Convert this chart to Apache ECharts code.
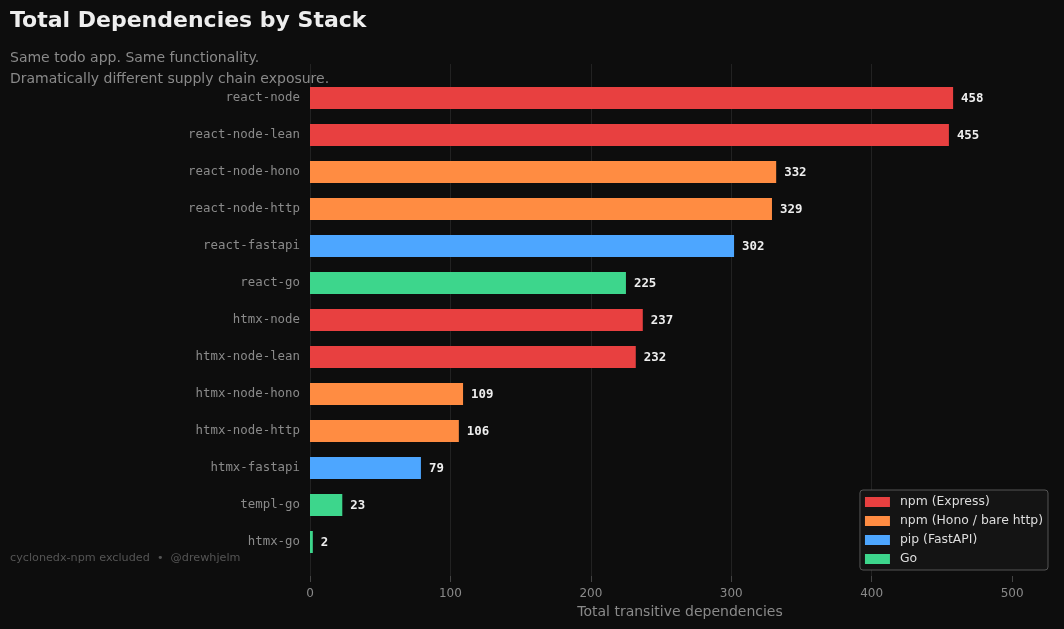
<!DOCTYPE html>
<html>
<head>
<meta charset="utf-8">
<script src="https://cdn.jsdelivr.net/npm/echarts@6/dist/echarts.min.js"></script>
<style>html,body{margin:0;padding:0;background:#0d0d0d;}#c{width:1064px;height:629px;}</style>
</head>
<body>
<div id="c"></div>
<script>
const categories = ["react-node","react-node-lean","react-node-hono","react-node-http","react-fastapi","react-go","htmx-node","htmx-node-lean","htmx-node-hono","htmx-node-http","htmx-fastapi","templ-go","htmx-go"];
const values = [458,455,332,329,302,225,237,232,109,106,79,23,2];
const groups = ["express","express","hono","hono","pip","go","express","express","hono","hono","pip","go","go"];
const seriesNames = {express:"npm (Express)", hono:"npm (Hono / bare http)", pip:"pip (FastAPI)", go:"Go"};
const seriesColors = {express:"#E84040", hono:"#FF8C42", pip:"#4DA6FF", go:"#3DD68C"};
const xTicks = [0,100,200,300,400,500];

const chart = echarts.init(document.getElementById('c'), null, {renderer:'canvas'});
const keys = ["express","hono","pip","go"];
const series = keys.map(k => ({
  type:'bar', name: seriesNames[k], xAxisIndex:0, yAxisIndex:0,
  data: values.map((v,i)=> groups[i]===k ? v : null),
  barWidth:22, barGap:'-100%',
  itemStyle:{color: seriesColors[k]},
  label:{show:true, position:'right', distance:8, offset:[0,1], color:'#eeeeee', fontFamily:'DejaVu Sans Mono', fontWeight:'bold', fontSize:12.4},
  z:3
}));
series.push({type:'bar', xAxisIndex:1, yAxisIndex:1, data:[], silent:true});

chart.setOption({
  backgroundColor:'#0d0d0d',
  animation:false,
  title:[
    {text:'Total Dependencies by Stack', left:10, top:10, padding:0, textStyle:{color:'#eeeeee', fontFamily:'DejaVu Sans', fontWeight:'bold', fontSize:22}},
    {text:'Same todo app. Same functionality.\nDramatically different supply chain exposure.', left:10, top:48, padding:0, textStyle:{color:'#8a8a8a', fontFamily:'DejaVu Sans', fontWeight:'normal', fontSize:14, lineHeight:21}},
    {text:'cyclonedx-npm excluded  •  @drewhjelm', left:10, top:553, padding:0, textStyle:{color:'#555555', fontFamily:'DejaVu Sans', fontWeight:'normal', fontSize:11.2}}
  ],
  legend:{
    data: keys.map(k=>seriesNames[k]),
    orient:'vertical', right:16, top:490,
    itemWidth:25, itemHeight:10, itemGap:7,
    backgroundColor:'#141414', borderColor:'#555555', borderWidth:1, borderRadius:3,
    padding:[6,5,5,5],
    textStyle:{color:'#dddddd', fontFamily:'DejaVu Sans', fontSize:12.4, padding:[0,0,0,5]},
    icon:'rect'
  },
  grid:[
    {left:310, right:14, top:79.5, height:481, containLabel:false},
    {left:310, right:14, top:64, height:512, containLabel:false}
  ],
  xAxis:[
    {type:'value', gridIndex:0, min:0, max:527, show:false, splitLine:{show:false}},
    {type:'value', gridIndex:1, min:0, max:527, interval:100,
     axisLine:{show:false},
     axisTick:{show:true, length:6, lineStyle:{color:'#444444'}, customValues: xTicks},
     splitLine:{show:true, showMaxLine:false, lineStyle:{color:'#222222', width:1}},
     axisLabel:{color:'#8a8a8a', fontFamily:'DejaVu Sans', fontSize:12, margin:12, customValues: xTicks,
       formatter: v => xTicks.includes(v) ? String(v) : ''},
     name:'Total transitive dependencies', nameLocation:'middle', nameGap:29,
     nameTextStyle:{color:'#8a8a8a', fontFamily:'DejaVu Sans', fontSize:14}}
  ],
  yAxis:[
    {type:'category', gridIndex:0, data:categories, inverse:true,
     axisLine:{show:false}, axisTick:{show:false}, splitLine:{show:false},
     axisLabel:{color:'#8a8a8a', fontFamily:'DejaVu Sans Mono', fontSize:12.4, margin:10, padding:[2,0,0,0]}},
    {type:'value', gridIndex:1, show:false, splitLine:{show:false}}
  ],
  series: series
});
</script>
</body>
</html>
